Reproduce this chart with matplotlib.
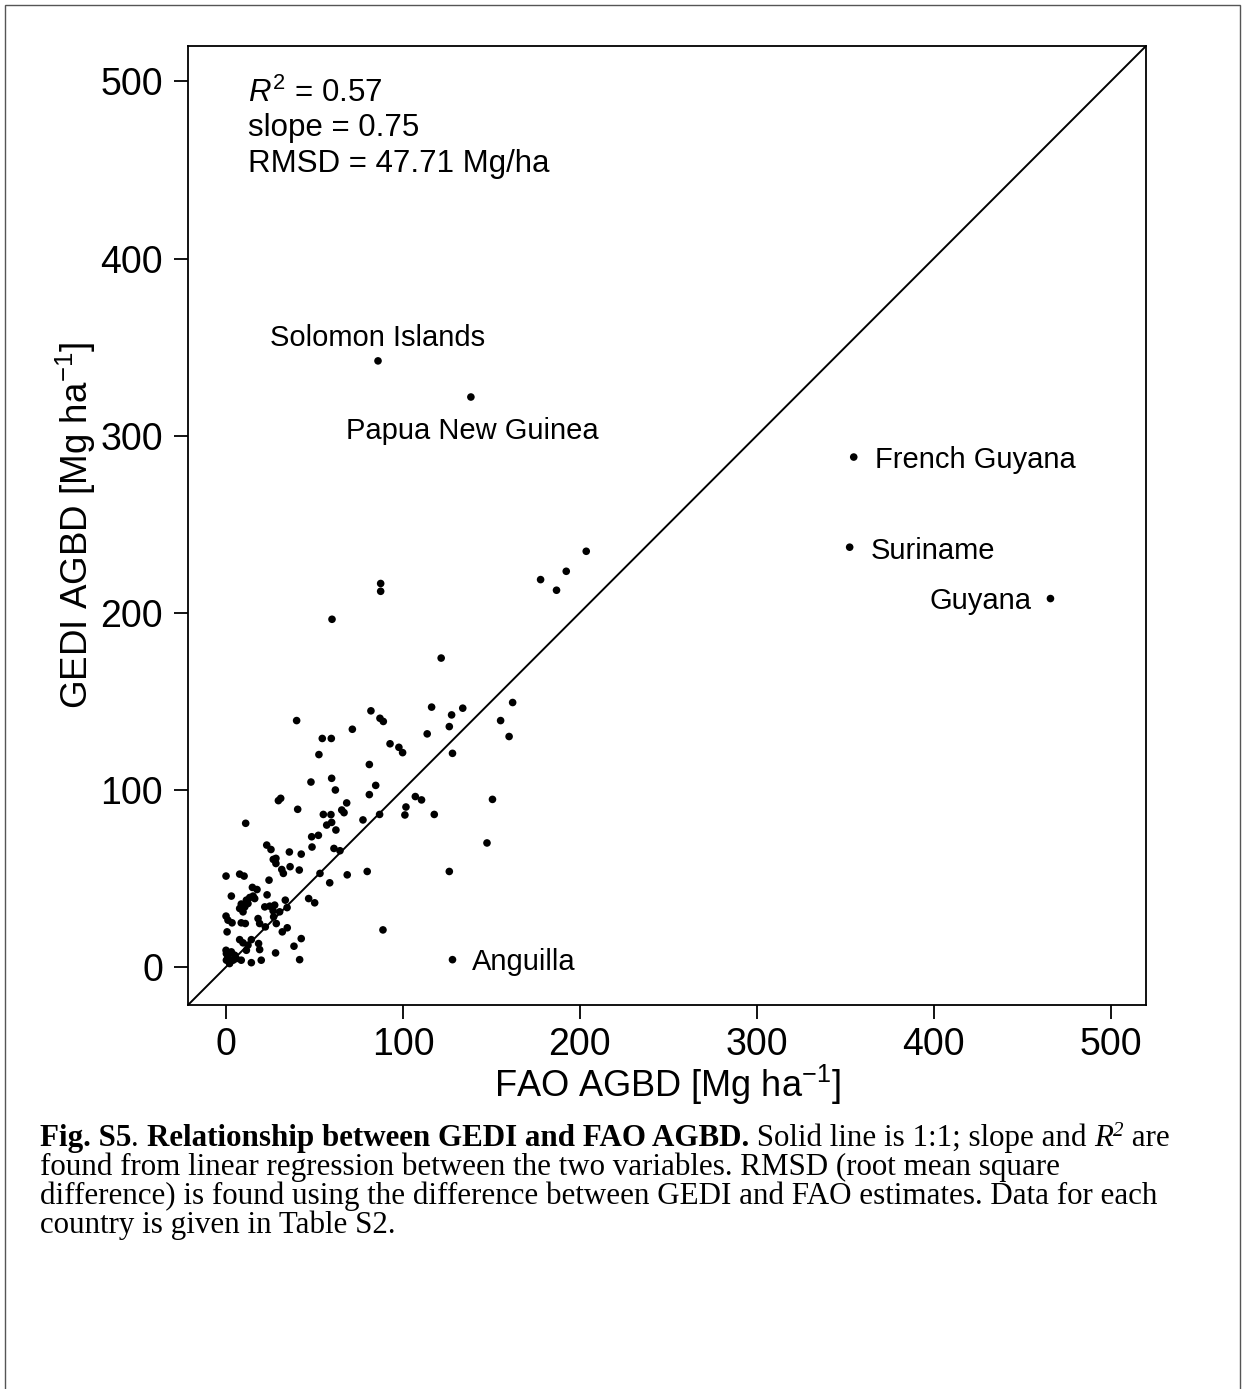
import matplotlib
matplotlib.use("Agg")
import matplotlib.pyplot as plt
from matplotlib.patches import Rectangle

plt.rcParams['font.family'] = ['Liberation Sans', 'DejaVu Sans']
plt.rcParams['mathtext.fontset'] = 'custom'
plt.rcParams['mathtext.rm'] = 'Liberation Sans'
plt.rcParams['mathtext.it'] = 'Liberation Sans:italic'
plt.rcParams['mathtext.bf'] = 'Liberation Sans:bold'

# ---- data (FAO AGBD, GEDI AGBD) ----
fao = [85.9, 138.4, 354.8, 352.5, 466.0, 128.0,
       203.6, 192.3, 177.8, 186.8, 87.4, 87.4, 59.9, 121.6,
       162.0, 133.8, 116.2, 127.5, 81.9, 87.0, 88.9, 39.9, 155.2, 126.2,
       113.7, 160.0, 71.4, 54.4, 59.5, 52.5, 128.0, 92.7, 97.7, 99.8,
       81.0, 59.7, 48.0, 84.6, 61.8, 81.0, 29.6, 30.9, 40.5, 68.2, 65.4, 66.7,
       107.0, 110.5, 101.7, 101.1, 117.7, 86.8, 55.0, 59.3, 59.7, 56.9, 62.1,
       77.4, 48.4, 52.2, 48.6, 61.0, 64.4, 23.0, 25.4, 35.8, 42.5, 26.7, 28.2,
       28.2, 36.2, 31.5, 32.4, 41.4, 53.1, 68.5, 79.8, 126.2, 150.6, 147.5,
       88.7, 11.1, 0.0, 7.7, 10.2, 3.0, 24.3, 14.9, 17.5, 23.2, 13.4, 15.3,
       16.2, 11.5, 8.6, 10.6, 12.4, 7.7, 9.6, 21.9, 24.7, 27.5, 26.6, 30.3,
       33.5, 34.5, 0.0, 1.1, 3.4, 8.6, 10.9, 18.1, 19.0, 22.2, 26.9, 28.4,
       31.8, 34.6, 0.6, 7.7, 9.6, 12.4, 14.3, 11.5, 18.4, 19.0, 28.0, 38.4,
       42.5, 41.6, 14.3, 19.9, 0.0, 0.2, 1.1, 0.2, 2.0, 3.0, 4.9, 4.0, 5.8,
       8.6, 58.6, 46.7, 50.1]
gedi = [342.2, 321.8, 287.9, 237.0, 208.0, 4.1,
        234.7, 223.4, 218.7, 212.7, 216.5, 212.1, 196.3, 174.4,
        149.3, 146.1, 146.7, 142.3, 144.6, 140.4, 138.6, 139.1, 139.1, 135.7,
        131.6, 130.1, 134.2, 129.0, 129.0, 119.9, 120.6, 126.0, 124.0, 121.0,
        114.3, 106.5, 104.4, 102.5, 99.9, 97.3, 93.9, 95.2, 89.0, 92.6, 88.6, 87.1,
        96.2, 94.3, 90.3, 85.8, 86.1, 86.1, 86.1, 86.0, 81.6, 80.1, 77.3,
        83.0, 73.5, 74.3, 67.7, 66.9, 65.6, 68.8, 66.3, 64.9, 63.7, 60.7, 61.3,
        58.4, 56.6, 55.0, 52.8, 54.7, 52.8, 52.0, 53.9, 53.9, 94.6, 70.0,
        20.9, 81.1, 51.3, 52.4, 51.3, 40.0, 49.0, 44.9, 43.7, 40.7, 39.2, 40.0,
        38.6, 37.7, 35.5, 33.9, 35.8, 33.0, 31.1, 33.9, 34.3, 34.9, 31.7, 31.1,
        37.7, 33.5, 28.7, 26.4, 24.9, 24.9, 24.5, 27.3, 24.5, 22.6, 28.3, 24.5,
        19.8, 22.1, 19.8, 15.4, 13.6, 12.3, 15.4, 9.4, 13.2, 9.8, 7.9, 11.7,
        16.0, 4.1, 2.4, 3.8, 9.4, 7.5, 5.7, 3.8, 1.9, 8.5, 6.6, 3.8, 4.7,
        3.8, 47.5, 38.6, 36.2]

label_names = ["Solomon Islands", "Papua New Guinea", "French Guyana",
               "Suriname", "Guyana", "Anguilla"]
label_x = [85.9, 139.0, 366.7, 364.4, 455.4, 139.0]
label_y = [355.0, 302.4, 286.5, 235.0, 206.5, 2.6]
label_ha = ["center", "center", "left", "left", "right", "left"]

xticks = [0, 100, 200, 300, 400, 500]
yticks = [0, 100, 200, 300, 400, 500]
lims = (-21.5, 520.0)

W, H = 1246, 1389
fig = plt.figure(figsize=(W / 100, H / 100), dpi=100)

# outer frame
fig.patches.append(Rectangle((5 / W, -0.01), (1240 - 5) / W, 1 - 5 / H + 0.01,
                             transform=fig.transFigure, fill=False,
                             edgecolor='#555555', linewidth=1.0))

ax = fig.add_axes([188 / W, 1 - 1005 / H, (1146 - 188) / W, (1005 - 46) / H])
ax.set_xlim(*lims)
ax.set_ylim(*lims)
ax.plot(lims, lims, color='black', linewidth=1.4, zorder=1)
ax.scatter(fao, gedi, s=30, color='black', edgecolors='none', zorder=2)

for name, x, y, ha in zip(label_names, label_x, label_y, label_ha):
    ax.text(x, y, name, ha=ha, va='center', fontsize=21)

ax.text(12.4, 493.0, r"$R^2$ = 0.57", fontsize=22.5, va='center', ha='left')
ax.text(12.4, 473.5, "slope = 0.75", fontsize=22.5, va='center', ha='left')
ax.text(12.4, 453.5, "RMSD = 47.71 Mg/ha", fontsize=22.5, va='center', ha='left')

ax.set_xticks(xticks)
ax.set_yticks(yticks)
ax.tick_params(direction='out', length=10, width=1.3, labelsize=27, pad=6)
ax.tick_params(axis='y', pad=8)
for sp in ax.spines.values():
    sp.set_linewidth(1.3)
ax.set_xlabel(r"FAO AGBD [Mg ha$^{-1}$]", fontsize=26, labelpad=0)
ax.set_ylabel(r"GEDI AGBD [Mg ha$^{-1}$]", fontsize=26.5, labelpad=2)

# caption with mixed styles
fig.canvas.draw()
renderer = fig.canvas.get_renderer()
serif = 'Liberation Serif'
cap_fs = 22.3


def draw_runs(runs, x0_px, base_px):
    x = x0_px
    for txt, weight, style, sup in runs:
        y = base_px - (10 if sup else 0)
        fs = cap_fs * (0.68 if sup else 1.0)
        t = fig.text(x / W, 1 - y / H, txt, fontsize=fs, family=serif,
                     weight=weight, style=style, ha='left', va='baseline')
        bb = t.get_window_extent(renderer=renderer)
        x += bb.width


lines = [
    [("Fig. S5", 'bold', 'normal', False), (". ", 'normal', 'normal', False),
     ("Relationship between GEDI and FAO AGBD.", 'bold', 'normal', False),
     (" Solid line is 1:1; slope and ", 'normal', 'normal', False),
     ("R", 'normal', 'italic', False), ("2", 'normal', 'italic', True),
     (" are", 'normal', 'normal', False)],
    [("found from linear regression between the two variables. RMSD (root mean square", 'normal', 'normal', False)],
    [("difference) is found using the difference between GEDI and FAO estimates. Data for each", 'normal', 'normal', False)],
    [("country is given in Table S2.", 'normal', 'normal', False)],
]
baselines = [1146, 1175, 1204, 1233]
for runs, b in zip(lines, baselines):
    draw_runs(runs, 40, b)

fig.savefig("out.png", dpi=100)
